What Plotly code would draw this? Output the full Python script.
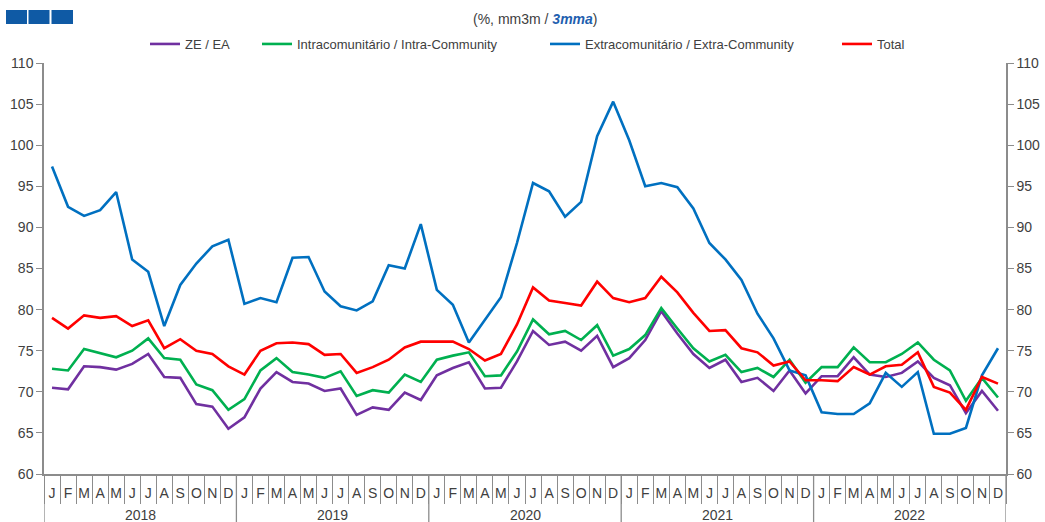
import plotly.graph_objects as go

years = ["2018", "2019", "2020", "2021", "2022"]
month_letters = ["J", "F", "M", "A", "M", "J", "J", "A", "S", "O", "N", "D"]

ze_ea = [70.5, 70.3, 73.1, 73.0, 72.7, 73.4, 74.6, 71.8, 71.7, 68.5, 68.2, 65.5,
         66.9, 70.4, 72.4, 71.2, 71.0, 70.1, 70.4, 67.2, 68.1, 67.8, 69.9, 69.0,
         72.0, 72.9, 73.6, 70.4, 70.5, 73.7, 77.4, 75.7, 76.1, 75.0, 76.8, 73.0,
         74.1, 76.3, 79.8, 77.1, 74.6, 72.9, 73.9, 71.2, 71.7, 70.1, 72.6, 69.8,
         71.9, 71.9, 74.2, 72.1, 71.8, 72.3, 73.7, 71.7, 70.8, 67.4, 70.1, 67.7]
intra = [72.8, 72.6, 75.2, 74.7, 74.2, 75.0, 76.5, 74.1, 73.9, 70.9, 70.2, 67.8,
         69.1, 72.6, 74.1, 72.4, 72.1, 71.7, 72.5, 69.5, 70.2, 69.9, 72.1, 71.2,
         73.9, 74.4, 74.8, 71.9, 72.0, 74.9, 78.8, 77.0, 77.4, 76.3, 78.1, 74.4,
         75.2, 76.9, 80.2, 77.7, 75.3, 73.7, 74.5, 72.4, 72.9, 71.8, 73.9, 71.1,
         73.0, 73.0, 75.4, 73.6, 73.6, 74.6, 76.0, 73.9, 72.6, 68.9, 71.7, 69.3]
extra = [97.4, 92.5, 91.4, 92.1, 94.3, 86.1, 84.6, 78.0, 83.0, 85.6, 87.7, 88.5,
         80.7, 81.4, 80.9, 86.3, 86.4, 82.2, 80.4, 79.9, 81.0, 85.4, 85.0, 90.4,
         82.4, 80.6, 76.0, 78.8, 81.5, 88.1, 95.4, 94.4, 91.3, 93.1, 101.1, 105.3,
         100.6, 95.0, 95.4, 94.9, 92.3, 88.1, 86.1, 83.6, 79.5, 76.5, 72.6, 72.0,
         67.5, 67.3, 67.3, 68.6, 72.3, 70.6, 72.4, 64.9, 64.9, 65.6, 72.0, 75.3]
total = [79.0, 77.7, 79.3, 79.0, 79.2, 78.0, 78.7, 75.3, 76.4, 75.0, 74.6, 73.1,
         72.1, 75.0, 75.9, 76.0, 75.8, 74.5, 74.6, 72.3, 73.0, 73.9, 75.4, 76.1,
         76.1, 76.1, 75.2, 73.8, 74.6, 78.2, 82.7, 81.1, 80.8, 80.5, 83.4, 81.4,
         80.9, 81.4, 84.0, 82.1, 79.6, 77.4, 77.5, 75.3, 74.8, 73.2, 73.7, 71.4,
         71.4, 71.3, 73.0, 72.1, 73.1, 73.3, 74.8, 70.6, 69.9, 67.8, 71.8, 71.0]

series = [
    ("ZE / EA", ze_ea, "#7030A0"),
    ("Intracomunitário / Intra-Community", intra, "#00B050"),
    ("Extracomunitário / Extra-Community", extra, "#0070C0"),
    ("Total", total, "#FF0000"),
]
legend_left_px = [153, 265, 553, 845]

n = len(years) * 12
x = list(range(n))
ticktext = month_letters * len(years)

W, H = 1045, 522
L, R, T, B = 44, 39, 63, 48
PW, PH = W - L - R, H - T - B
AX = "#8c8c8c"
TXT = "#404040"
FONT = "Liberation Sans, Arial, sans-serif"

fig = go.Figure()
legend_layouts = {}
for k, (name, vals, col) in enumerate(series):
    lg = "legend" if k == 0 else f"legend{k + 1}"
    fig.add_trace(go.Scatter(x=x, y=vals, name=name, mode="lines", legend=lg,
                             line=dict(color=col, width=2.6)))
    legend_layouts[lg] = dict(xref="container", yref="container",
                              x=(legend_left_px[k] - 8) / W, xanchor="left",
                              y=1 - 44 / H, yanchor="middle",
                              font=dict(size=13, color=TXT, family=FONT),
                              itemwidth=30, bgcolor="rgba(0,0,0,0)")

def px_x(p):
    return (p - L) / PW

def px_y(p):
    return (H - B - p) / PH

shapes = []
for k in range(len(years) + 1):
    xv = k * 12 - 0.5
    shapes.append(dict(type="line", xref="x", yref="paper", x0=xv, x1=xv,
                       y0=0, y1=-B / PH, line=dict(color=AX, width=1.3)))
for sx in [(6, 27), (28.5, 49.5), (51.5, 73)]:
    shapes.append(dict(type="rect", xref="paper", yref="paper",
                       x0=px_x(sx[0]), x1=px_x(sx[1]), y0=px_y(24), y1=px_y(10),
                       line=dict(width=0), fillcolor="#0F5AA5"))

annotations = []
for k, yr in enumerate(years):
    annotations.append(dict(text=yr, x=k * 12 + 5.5, xref="x", y=-41 / PH, yref="paper",
                            showarrow=False, yanchor="middle",
                            font=dict(size=14, color=TXT, family=FONT)))
annotations.append(dict(text="(%, mm3m / <b><i><span style='color:#1F5FAF'>3mma</span></i></b>)",
                        x=px_x(535), xref="paper", y=px_y(19), yref="paper",
                        showarrow=False, yanchor="middle",
                        font=dict(size=14, color=TXT, family=FONT)))

fig.update_layout(
    width=W, height=H,
    margin=dict(l=L, r=R, t=T, b=B, autoexpand=False),
    paper_bgcolor="white", plot_bgcolor="white",
    font=dict(family=FONT, size=14, color=TXT),
    showlegend=True,
    xaxis=dict(range=[-0.5, n - 0.5], tickmode="array", tickvals=x, ticktext=ticktext,
               showgrid=False, zeroline=False, showline=True, linecolor=AX, linewidth=1.5,
               ticks="outside", ticklen=5, tickcolor="rgba(0,0,0,0)", automargin=False,
               tickfont=dict(size=14, color=TXT),
               minor=dict(tickmode="linear", tick0=-0.5, dtick=1, ticks="outside",
                          ticklen=28, tickcolor=AX, tickwidth=1.2, showgrid=False)),
    yaxis=dict(range=[60, 110], dtick=5, showgrid=False, zeroline=False, showline=True,
               linecolor=AX, linewidth=1.5, ticks="outside", ticklen=6, tickcolor=AX,
               automargin=False, tickfont=dict(size=14, color=TXT)),
    yaxis2=dict(range=[60, 110], dtick=5, overlaying="y", side="right", showgrid=False,
                zeroline=False, showline=True, linecolor=AX, linewidth=1.5, automargin=False,
                ticks="outside", ticklen=6, tickcolor=AX, tickfont=dict(size=14, color=TXT)),
    shapes=shapes,
    annotations=annotations,
    **legend_layouts,
)
fig.data[3].update(yaxis="y2")

fig.write_html("out.html", config={"displayModeBar": False},
               post_script="document.body.style.margin='0px';document.body.style.overflow='hidden';")
